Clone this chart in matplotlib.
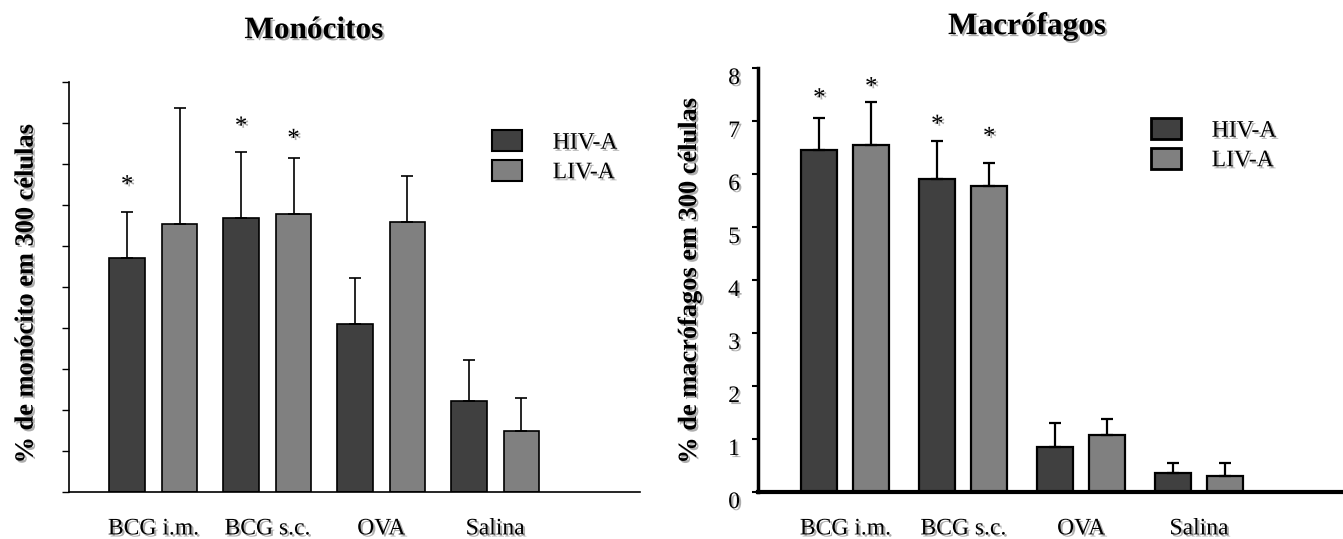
import numpy as np
import matplotlib
matplotlib.use('Agg')
import matplotlib.pyplot as plt
import matplotlib.patheffects as pe
from matplotlib.patches import Patch

plt.rcParams['font.family'] = ['Liberation Serif', 'DejaVu Serif']

groups = ['BCG i.m.', 'BCG s.c.', 'OVA', 'Salina']
series = ['HIV-A', 'LIV-A']

# Monocitos (axis has no numbers, values in tick units)
mono_hiv = [5.71, 6.69, 4.10, 2.21]
mono_hiv_err = [1.12, 1.61, 1.13, 1.01]
mono_liv = [6.53, 6.78, 6.58, 1.48]
mono_liv_err = [2.84, 1.36, 1.12, 0.82]
mono_star_hiv = [7.6, 9.03, None, None]
mono_star_liv = [None, 8.73, None, None]

# Macrofagos
macro_hiv = [6.46, 5.90, 0.85, 0.35]
macro_hiv_err = [0.59, 0.72, 0.46, 0.19]
macro_liv = [6.55, 5.78, 1.08, 0.31]
macro_liv_err = [0.80, 0.42, 0.30, 0.23]
macro_star_hiv = [7.52, 7.02, None, None]
macro_star_liv = [7.73, 6.79, None, None]

dark = '#404040'
light = '#808080'
shadow = [pe.SimplePatchShadow(offset=(1.5, -1.5), shadow_rgbFace='0.55', alpha=0.7), pe.Normal()]
fs = 17


def draw_panel(ax, hiv, hiv_err, liv, liv_err, star_hiv, star_liv, width, off, lw, elw):
    x = np.arange(len(groups))
    for vals, err, stars, dx, color in [(hiv, hiv_err, star_hiv, -off, dark),
                                        (liv, liv_err, star_liv, off, light)]:
        ax.bar(x + dx, vals, width, color=color, edgecolor='black', linewidth=lw, zorder=2)
        ax.errorbar(x + dx, vals, yerr=[np.zeros(len(vals)), err], fmt='none',
                    ecolor='black', elinewidth=elw, capsize=4.5, capthick=elw, zorder=3)
        for xi, s in zip(x + dx, stars):
            if s is not None:
                ax.annotate('*', (xi, s), xytext=(0, -8), textcoords='offset points',
                            ha='center', va='baseline', fontsize=18, path_effects=shadow,
                            annotation_clip=False)
    ax.set_xticks(x, groups, path_effects=shadow)
    ax.tick_params(axis='x', length=0, pad=19, labelsize=fs)
    for s in ['top', 'right']:
        ax.spines[s].set_visible(False)
    return x


fig = plt.figure(figsize=(13.43, 5.39), dpi=100)

# left panel
ax1 = fig.add_axes([69 / 1343, 47 / 539, 571 / 1343, 410 / 539])
draw_panel(ax1, mono_hiv, mono_hiv_err, mono_liv, mono_liv_err,
           mono_star_hiv, mono_star_liv, 0.31, 0.23, 1.2, 1.2)
ax1.set_xlim(-0.74, 4.27)
ax1.set_ylim(0, 10)
ax1.set_yticks(np.arange(11), [''] * 11)
ax1.tick_params(axis='y', length=5, width=1)
ax1.spines['left'].set_linewidth(1.2)
ax1.spines['bottom'].set_linewidth(1.2)
ax1.set_ylabel('% de monócito em 300 células', fontsize=19, fontweight='bold',
               va='center', path_effects=shadow)
ax1.yaxis.set_label_coords(-0.075, 0.483)
ax1.text(0.429, 1.107, 'Monócitos', transform=ax1.transAxes, ha='center', va='baseline',
         fontsize=22.5, fontweight='bold', path_effects=shadow)
handles = [Patch(facecolor=dark, edgecolor='black', lw=1.5),
           Patch(facecolor=light, edgecolor='black', lw=1.5)]
leg1 = ax1.legend(handles, series, loc='upper left', bbox_to_anchor=(492 / 1343, 1 - 130 / 539),
                  bbox_transform=fig.transFigure, frameon=False, fontsize=fs,
                  handlelength=1.27, handleheight=1.0, handletextpad=1.3,
                  labelspacing=0.25, borderpad=0, borderaxespad=0)
for t in leg1.get_texts():
    t.set_path_effects(shadow)

# right panel
ax2 = fig.add_axes([758 / 1343, 47 / 539, 585 / 1343, 424 / 539])
draw_panel(ax2, macro_hiv, macro_hiv_err, macro_liv, macro_liv_err,
           macro_star_hiv, macro_star_liv, 0.305, 0.22, 1.6, 1.6)
ax2.set_xlim(-0.74, 4.22)
ax2.set_ylim(0, 8)
ax2.set_yticks(np.arange(9), [str(i) for i in range(9)], va='top', path_effects=shadow)
ax2.tick_params(axis='y', length=4, width=1.5, pad=9, labelsize=fs)
ax2.spines['left'].set_linewidth(2.5)
ax2.spines['bottom'].set_linewidth(3)
ax2.set_ylabel('% de macrófagos em 300 células', fontsize=19, fontweight='bold',
               va='center', path_effects=shadow)
ax2.yaxis.set_label_coords(-0.117, 0.498)
ax2.text(0.46, 1.08, 'Macrófagos', transform=ax2.transAxes, ha='center', va='baseline',
         fontsize=22.5, fontweight='bold', path_effects=shadow)
handles = [Patch(facecolor=dark, edgecolor='black', lw=2),
           Patch(facecolor=light, edgecolor='black', lw=2)]
leg2 = ax2.legend(handles, series, loc='upper left', bbox_to_anchor=(1151 / 1343, 1 - 118 / 539),
                  bbox_transform=fig.transFigure, frameon=False, fontsize=fs,
                  handlelength=1.27, handleheight=1.0, handletextpad=1.3,
                  labelspacing=0.25, borderpad=0, borderaxespad=0)
for t in leg2.get_texts():
    t.set_path_effects(shadow)

fig.savefig('out.png', dpi=100)
